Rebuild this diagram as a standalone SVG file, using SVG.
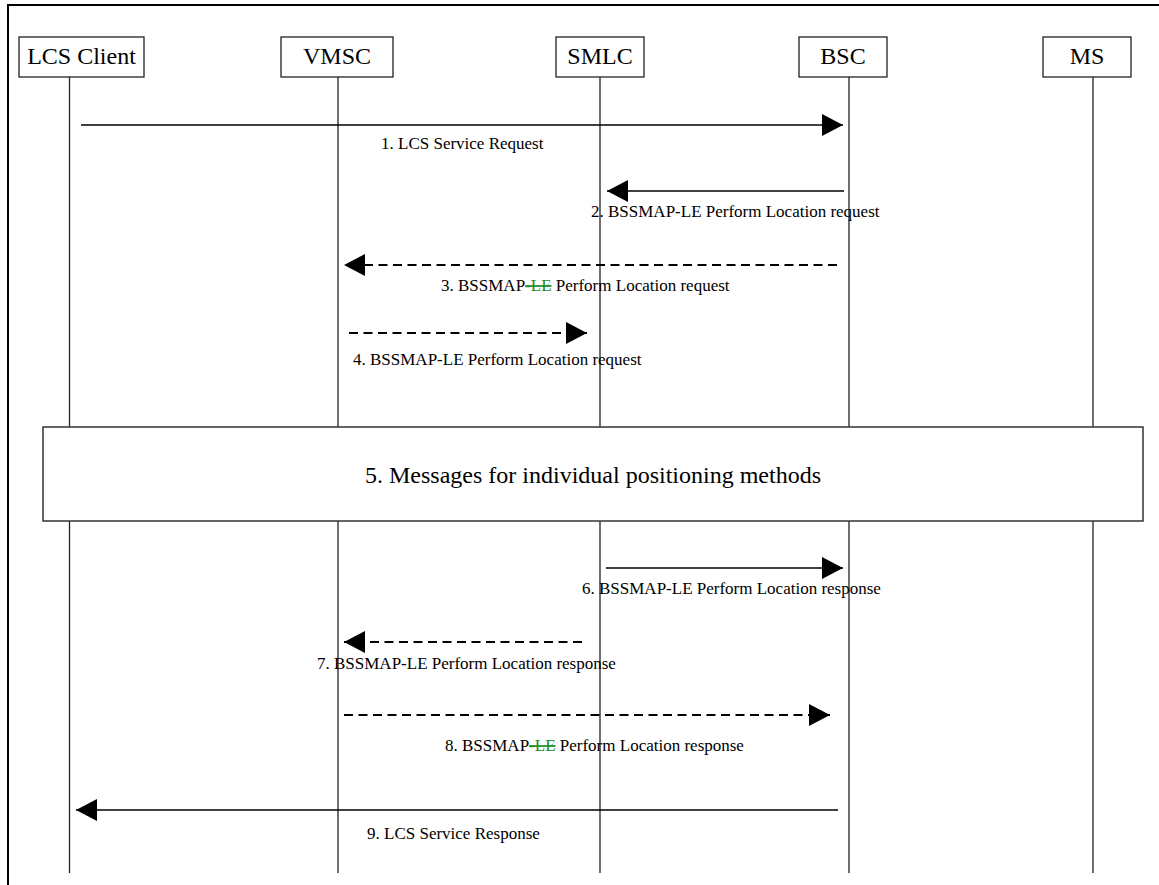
<svg xmlns="http://www.w3.org/2000/svg" width="1159" height="885" viewBox="0 0 1159 885">
<style>
.frame{stroke:#000;stroke-width:2;fill:none}
.box{fill:#fff;stroke:#222;stroke-width:1.3}
.life{stroke:#222;stroke-width:1.3}
.nlabel{font-family:"Liberation Serif","Times New Roman",serif;font-size:24px;fill:#000;text-anchor:middle}
.msg{stroke:#000;stroke-width:1.7;fill:none}
.dash{stroke-dasharray:9 5.5;stroke-width:2}
.mlabel{font-family:"Liberation Serif","Times New Roman",serif;font-size:17px;fill:#000}
.del{fill:#1e8c1e;text-decoration:line-through}
.big{font-family:"Liberation Serif","Times New Roman",serif;font-size:24px;fill:#000;text-anchor:middle}
</style>
<defs>
<marker id="ah" viewBox="0 0 21 22" refX="21" refY="11" markerWidth="21" markerHeight="22" markerUnits="userSpaceOnUse" orient="auto">
<path d="M0,0 L21,11 L0,22 Z" fill="#000"/>
</marker>
</defs>
<rect width="1159" height="885" fill="#fff"/>
<path class="frame" d="M8,885 V5 H1159"/>
<g id="lifelines">
<line class="life" x1="69.5" y1="77" x2="69.5" y2="873"/>
<line class="life" x1="338" y1="77" x2="338" y2="873"/>
<line class="life" x1="600" y1="77" x2="600" y2="873"/>
<line class="life" x1="849" y1="77" x2="849" y2="873"/>
<line class="life" x1="1093" y1="77" x2="1093" y2="873"/>
</g>
<g id="node-lcs-client"><rect class="box" x="19" y="37" width="125" height="40"/><text class="nlabel" x="81.5" y="64">LCS Client</text></g>
<g id="node-vmsc"><rect class="box" x="281" y="37" width="112" height="40"/><text class="nlabel" x="337" y="64">VMSC</text></g>
<g id="node-smlc"><rect class="box" x="556" y="37" width="88" height="40"/><text class="nlabel" x="600" y="64">SMLC</text></g>
<g id="node-bsc"><rect class="box" x="799" y="37" width="88" height="40"/><text class="nlabel" x="843" y="64">BSC</text></g>
<g id="node-ms"><rect class="box" x="1043" y="37" width="88" height="40"/><text class="nlabel" x="1087" y="64">MS</text></g>
<g id="node-step5"><rect x="43" y="427" width="1100" height="94" fill="#fff" stroke="#333" stroke-width="1.5"/><text class="big" x="593" y="483">5. Messages for individual positioning methods</text></g>
<g id="connectors">
<line class="msg" x1="81" y1="125" x2="843" y2="125" marker-end="url(#ah)"/>
<text class="mlabel" x="381" y="149">1. LCS Service Request</text>
<line class="msg" x1="844" y1="191" x2="607" y2="191" marker-end="url(#ah)"/>
<text class="mlabel" x="591" y="217">2. BSSMAP-LE Perform Location request</text>
<line class="msg dash" x1="837" y1="265" x2="344" y2="265" marker-end="url(#ah)"/>
<text class="mlabel" x="441" y="291">3. BSSMAP<tspan class="del">-LE</tspan> Perform Location request</text>
<line class="msg dash" x1="349" y1="333" x2="587" y2="333" marker-end="url(#ah)"/>
<text class="mlabel" x="353" y="365">4. BSSMAP-LE Perform Location request</text>
<line class="msg dash" x1="582" y1="642" x2="344" y2="642" marker-end="url(#ah)"/>
<text class="mlabel" x="317" y="669">7. BSSMAP-LE Perform Location response</text>
<line class="msg" x1="606" y1="568" x2="843" y2="568" marker-end="url(#ah)"/>
<text class="mlabel" x="582" y="594">6. BSSMAP-LE Perform Location response</text>
<line class="msg dash" x1="344" y1="715" x2="830" y2="715" marker-end="url(#ah)"/>
<text class="mlabel" x="445" y="751">8. BSSMAP<tspan class="del">-LE</tspan> Perform Location response</text>
<line class="msg" x1="838" y1="810" x2="76" y2="810" marker-end="url(#ah)"/>
<text class="mlabel" x="367" y="839">9. LCS Service Response</text>
</g>
</svg>
